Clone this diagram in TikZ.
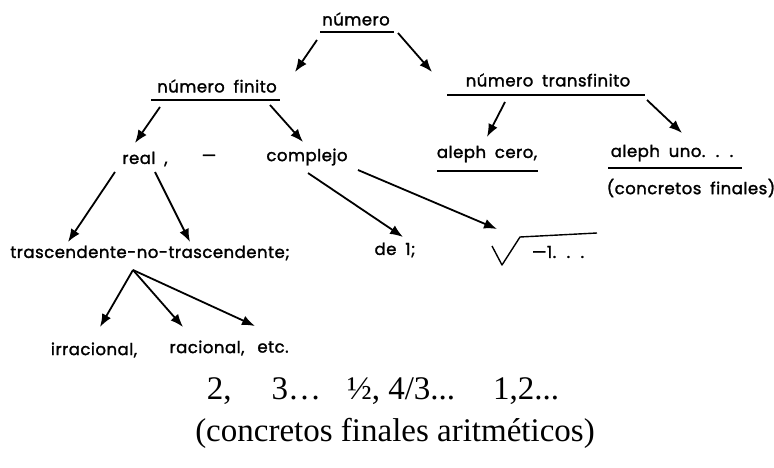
\documentclass[tikz,border=0pt]{standalone}
\usepackage{fontspec}
\setmainfont{Liberation Serif}
\setsansfont{Poppins}[FakeBold=1.6,LetterSpace=3,WordSpace=1.8]
\usetikzlibrary{arrows.meta}
\begin{document}
\begin{tikzpicture}[x=1pt,y=-1pt,
	lbl/.style={font=\sffamily\fontsize{16.5}{18}\selectfont,inner sep=0pt},
	big/.style={font=\fontsize{33}{37}\selectfont,inner sep=0pt},
	arr/.style={line width=1.8pt,-{Latex[length=13pt,width=10pt]}},
	ul/.style={line width=2.4pt}]
	\useasboundingbox (0,0) rectangle (774,468);
	\node[lbl](num) at (356,19) {número};
	\node[lbl](nf) at (217,86) {número finito};
	\node[lbl](nt) at (548,80) {número transfinito};
	\node[lbl](real) at (145,159) {real ,};
	\node[lbl](dash) at (209,158) {—};
	\node[lbl](comp) at (307,157) {complejo};
	\node[lbl](ac) at (487,154) {aleph cero,};
	\node[lbl](au) at (672,153) {aleph uno. . .};
	\node[lbl](cf) at (691,188) {(concretos finales)};
	\node[lbl](tnt) at (150,253) {trascendente-no-trascendente;};
	\node[lbl](irr) at (94,350) {irracional,};
	\node[lbl](rac) at (207,348) {racional,};
	\node[lbl](etc) at (273,347) {etc.};
	\node[lbl](de1) at (395,250) {de 1;};
	\node[lbl](sq) at (558,252) {—1. . .};
	\node[big](nums) at (383,391) {2,\hspace{40pt}3…\hspace{26pt}½, 4/3...\hspace{38pt}1,2...};
	\node[big](caf) at (395,433) {(concretos finales aritméticos)};
	% subrayados
	\draw[ul] ([shift={(-36,13)}]num.center) -- ([shift={(38,13)}]num.center);
	\draw[ul] ([shift={(-66,14)}]nf.center) -- ([shift={(63,14)}]nf.center);
	\draw[ul] ([shift={(-101,15)}]nt.center) -- ([shift={(97,15)}]nt.center);
	\draw[ul] ([shift={(-50,17)}]ac.center) -- ([shift={(51,17)}]ac.center);
	\draw[ul] ([shift={(-64,15)}]au.center) -- ([shift={(70,15)}]au.center);
	% raiz
	\draw[line width=1.4pt,line join=round] ([shift={(-66,-6)}]sq.center) -- ([shift={(-56,13)}]sq.center)
		-- ([shift={(-38,-15)}]sq.center) -- ([shift={(39,-19)}]sq.center);
	% flechas
	\draw[arr] ([shift={(-39,21)}]num.center) -- ([shift={(78,-14)}]nf.center);
	\draw[arr] ([shift={(42,14)}]num.center) -- ([shift={(-116,-8)}]nt.center);
	\draw[arr] ([shift={(-57,21)}]nf.center) -- ([shift={(-10,-16)}]real.center);
	\draw[arr] ([shift={(53,19)}]nf.center) -- ([shift={(-4,-15)}]comp.center);
	\draw[arr] ([shift={(-43,22)}]nt.center) -- ([shift={(0,-17)}]ac.center);
	\draw[arr] ([shift={(99,20)}]nt.center) -- ([shift={(10,-20)}]au.center);
	\draw[arr] ([shift={(-30,13)}]real.center) -- ([shift={(-82,-11)}]tnt.center);
	\draw[arr] ([shift={(10,13)}]real.center) -- ([shift={(40,-11)}]tnt.center);
	\draw[arr] ([shift={(1,16)}]comp.center) -- ([shift={(8,-13)}]de1.center);
	\draw[arr] ([shift={(51,13)}]comp.center) -- ([shift={(-61,-23)}]sq.center);
	\coordinate (br) at ([shift={(-17,17)}]tnt.center);
	\draw[arr] (br) -- ([shift={(6,-23)}]irr.center);
	\draw[arr] (br) -- ([shift={(-24,-21)}]rac.center);
	\draw[arr] (br) -- ([shift={(-18,-21)}]etc.center);
\end{tikzpicture}
\end{document}
